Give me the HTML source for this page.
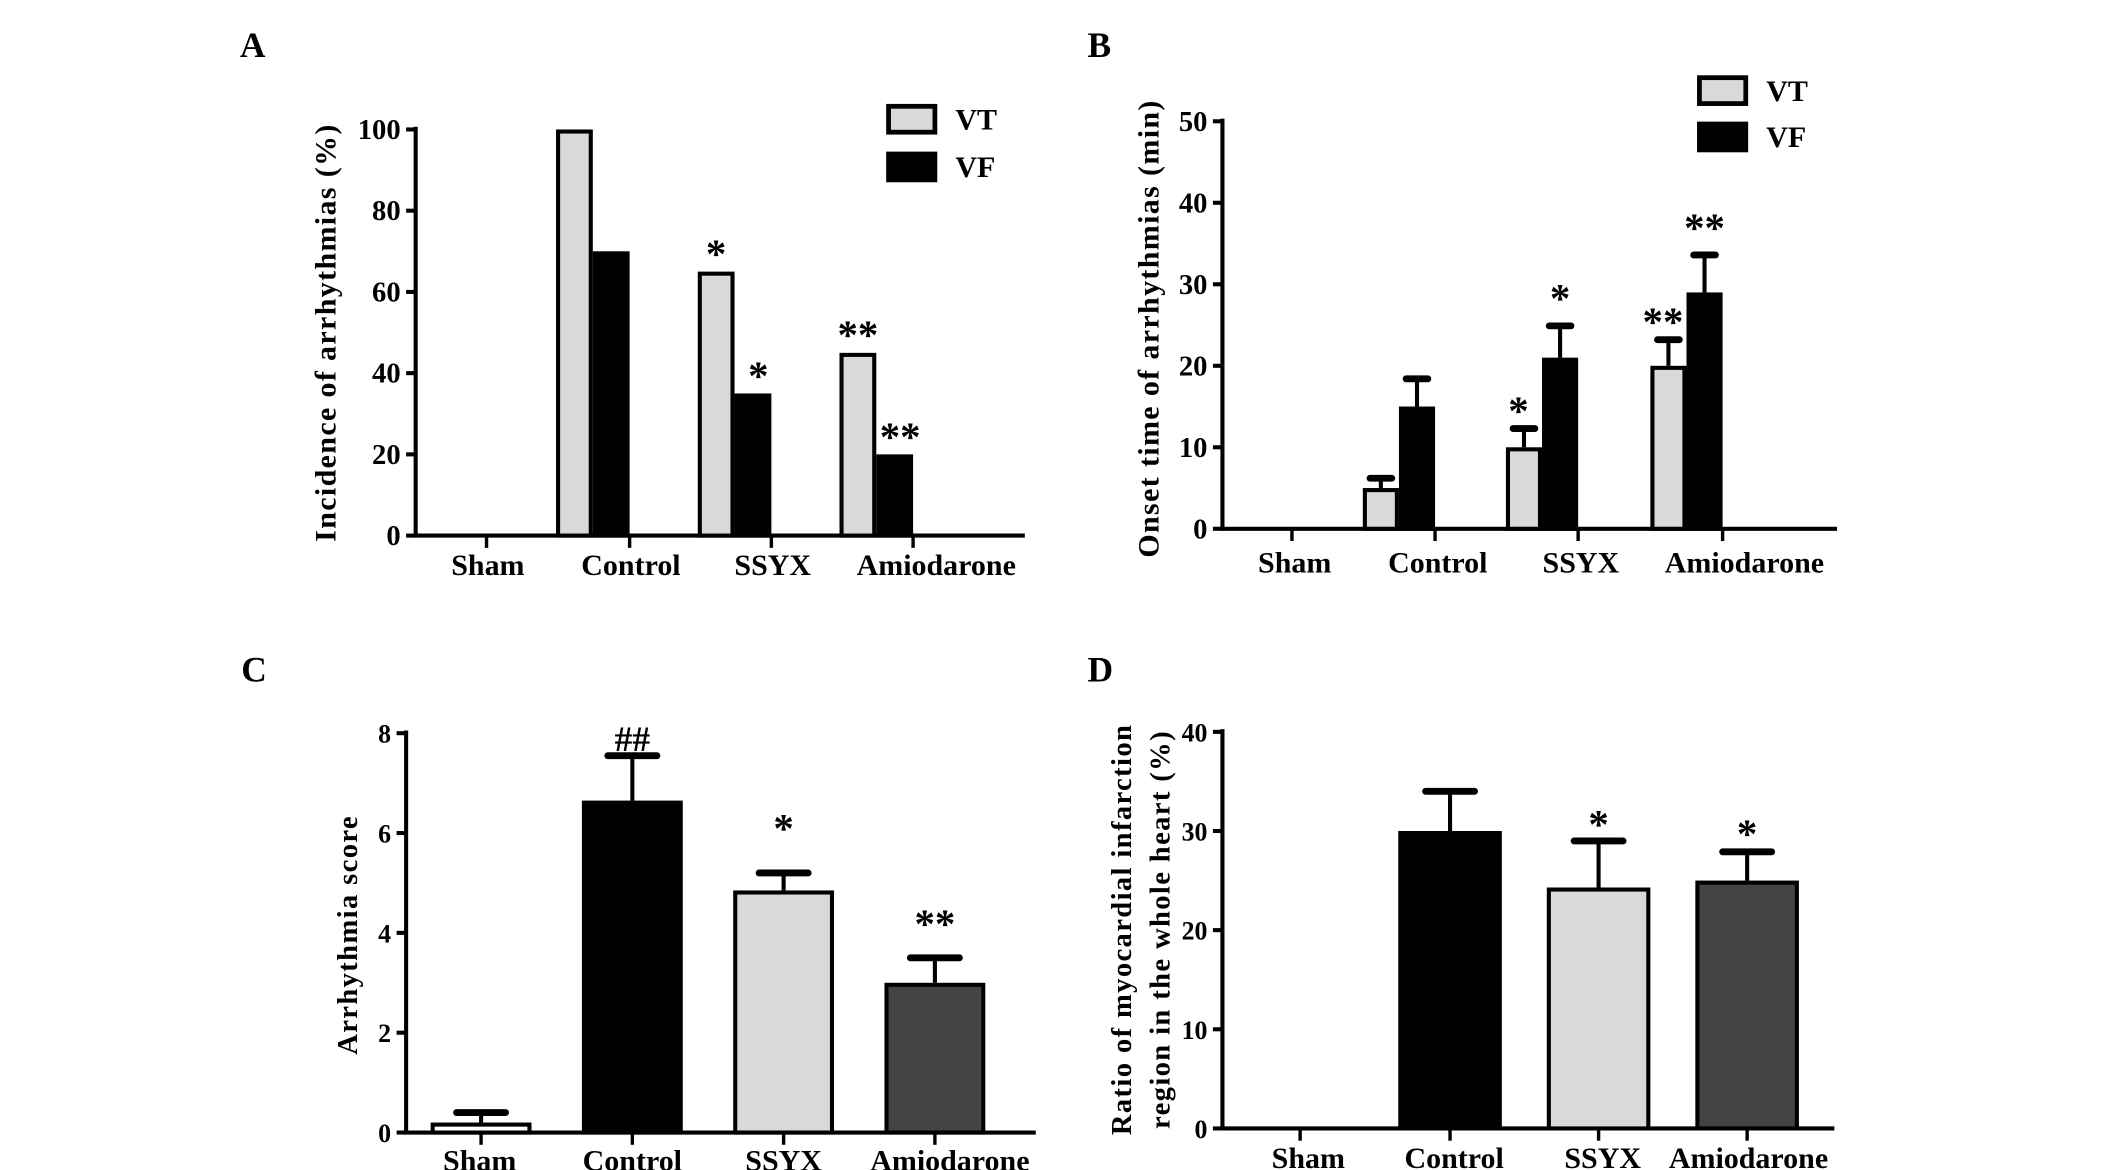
<!DOCTYPE html>
<html><head><meta charset="utf-8"><style>
html,body{margin:0;padding:0;background:#fff;}
svg{display:block;}
text{font-family:"Liberation Serif",serif;font-weight:bold;fill:#000;}
</style></head><body>
<svg id="fig" width="2126" height="1170" viewBox="0 0 1560 858.5" preserveAspectRatio="none" xmlns="http://www.w3.org/2000/svg"></svg>
<script>
const cats = ["Sham","Control","SSYX","Amiodarone"];
// Panel A
const aVT = [0,100,65,45];
const aVF = [0,70,35,20];
const aVTSig = ["","","*","**"];
const aVFSig = ["","","*","**"];
const aTicks = [0,20,40,60,80,100];
// Panel B
const bVT = [0,5,10,20];
const bVTErr = [0,1.2,2.3,3.2];
const bVF = [0,15,21,29];
const bVFErr = [0,3.4,3.9,4.6];
const bVTSig = ["","","*","**"];
const bVFSig = ["","","*","**"];
const bTicks = [0,10,20,30,40,50];
// Panel C
const cVal = [0.2,6.65,4.85,3.0];
const cErr = [0.2,0.9,0.35,0.5];
const cSig = ["","##","*","**"];
const cTicks = [0,2,4,6,8];
// Panel D
const dVal = [0,30,24.3,25];
const dErr = [0,4,4.7,2.9];
const dSig = ["","","*","*"];
const dTicks = [0,10,20,30,40];

const svg = document.getElementById('fig');
const NS = "http://www.w3.org/2000/svg";
function el(tag, attrs, parent, txt){
  const e = document.createElementNS(NS, tag);
  for (const k in attrs) e.setAttribute(k, attrs[k]);
  if (txt !== undefined) e.textContent = txt;
  (parent||svg).appendChild(e);
  return e;
}
function group(name){
  const g = el('g', {});
  
  
  return g;
}
function axes(g, x0, y0, yTop, xEnd, ticks, tickX, vmax, fs){
  const y = v => y0 - (v / vmax) * (y0 - yTop);
  const ya = el('line', {x1:x0, y1:yTop-2, x2:x0, y2:y0, stroke:'#000','stroke-width':3}, g);
  
  
  const xa = el('line', {x1:x0-1.5, y1:y0, x2:xEnd, y2:y0, stroke:'#000','stroke-width':3}, g);
  
  
  ticks.forEach(t => {
    el('line', {x1:x0-7, y1:y(t), x2:x0, y2:y(t), stroke:'#000','stroke-width':3}, g);
    const tl = el('text', {x:x0-11, y:y(t)+7, 'text-anchor':'end','font-size':fs}, g, String(t));
    
    
  });
  tickX.forEach((tx, i) => {
    el('line', {x1:tx, y1:y0, x2:tx, y2:y0+9, stroke:'#000','stroke-width':2.5}, g);
  });
  return y;
}
function catLabels(g, xs, yy, fs){
  xs.forEach((x,i)=>{
    const t = el('text', {x:x, y:yy, 'text-anchor':'middle','font-size':fs}, g, cats[i]);
    
    
  });
}
function bar(g, x, w, y, v, fill, name){
  if (v <= 0) return;
  const r = el('rect', {x:x+1.5, y:y(v)+1.5, width:w-3, height:y(0)-y(v)-1.5, fill:fill, stroke:'#000','stroke-width':3}, g);
  
  
}
function errbar(g, cx, y, v, e, cap){
  if (e <= 0) return;
  const l = el('line', {x1:cx, y1:y(v), x2:cx, y2:y(v+e), stroke:'#000','stroke-width':3}, g);
  
  
  el('line', {x1:cx-cap, y1:y(v+e), x2:cx+cap, y2:y(v+e), stroke:'#000','stroke-width':5,'stroke-linecap':'round'}, g);
}
function sig(g, cx, yy, s, fs){
  if (!s) return;
  const t = el('text', {x:cx, y:yy, 'text-anchor':'middle','font-size':fs}, g, s);
  
  
}
function ytitle(g, x, y, lines, fs){
  lines.forEach((s, i) => {
    const t = el('text', {x:0, y:0, 'text-anchor':'middle','font-size':fs,'letter-spacing':1,
      transform:`translate(${x + i*28},${y}) rotate(-90)`}, g, s);
    
    
  });
}
function legend(g, x, y1, y2){
  const r1 = el('rect', {x:x, y:y1, width:34, height:19, fill:'#d9d9d9', stroke:'#000','stroke-width':3.5}, g);
  
  
  const t1 = el('text', {x:x+49, y:y1+17, 'font-size':22}, g, 'VT');
  
  
  const r2 = el('rect', {x:x, y:y2, width:34, height:19, fill:'#000', stroke:'#000','stroke-width':3.5}, g);
  
  
  const t2 = el('text', {x:x+49, y:y2+17, 'font-size':22}, g, 'VF');
  
  
}
function panelLabel(s, x, y){
  const t = el('text', {x:x, y:y, 'font-size':26}, svg, s);
  
  
}

// ---- Panel A
panelLabel('A', 176, 42);
{
  const g = group('panel-a-chart');
  const tx = [357,462,566,670];
  const y = axes(g, 305, 393, 95, 752, aTicks, tx, 100, 21);
  const w = 27;
  tx.forEach((t,i)=>{
    bar(g, t-2*w, w, y, aVT[i], '#d9d9d9', 'bar-vt-'+cats[i].toLowerCase());
    bar(g, t-w, w, y, aVF[i], '#000', 'bar-vf-'+cats[i].toLowerCase());
    sig(g, t-1.5*w, y(aVT[i])-3, aVTSig[i], 30);
    sig(g, t-0.5*w+4, y(aVF[i])-3, aVFSig[i], 30);
  });
  catLabels(g, [358,463,567,687], 422, 22);
  ytitle(g, 246, 244, ['Incidence  of arrhythmias (%)'], 22);
  legend(g, 652, 78, 113);
}
// ---- Panel B
panelLabel('B', 798, 42);
{
  const g = group('panel-b-chart');
  const tx = [948,1053,1158,1264];
  const y = axes(g, 897, 388, 89, 1348, bTicks, tx, 50, 21);
  const w = 26.5;
  tx.forEach((t,i)=>{
    bar(g, t-2*w, w, y, bVT[i], '#d9d9d9', 'bar-vt-'+cats[i].toLowerCase());
    bar(g, t-w, w, y, bVF[i], '#000', 'bar-vf-'+cats[i].toLowerCase());
    errbar(g, t-1.5*w, y, bVT[i], bVTErr[i], 8);
    errbar(g, t-0.5*w, y, bVF[i], bVFErr[i], 8);
    sig(g, t-1.5*w-4, y(bVT[i]+bVTErr[i])-3, bVTSig[i], 30);
    sig(g, t-0.5*w, y(bVF[i]+bVFErr[i])-10, bVFSig[i], 30);
  });
  catLabels(g, [950,1055,1160,1280], 420, 22);
  ytitle(g, 850, 241, ['Onset time of arrhythmias (min)'], 22);
  legend(g, 1247, 57, 91);
}
// ---- Panel C
panelLabel('C', 177, 500);
{
  const g = group('panel-c-chart');
  const tx = [353,464,575,686];
  const y = axes(g, 298, 831, 538, 760, cTicks, tx, 8, 19);
  const w = 74;
  const fills = ['#fff','#000','#d9d9d9','#444'];
  tx.forEach((t,i)=>{
    bar(g, t-w/2, w, y, cVal[i], fills[i], 'bar-'+cats[i].toLowerCase());
    errbar(g, t, y, cVal[i], cErr[i], 18);
  });
  sig(g, tx[1], 551, cSig[1], 26);
  sig(g, tx[2], 618, cSig[2], 30);
  sig(g, tx[3], 688, cSig[3], 30);
  catLabels(g, [352,464,575,697], 859, 22);
  ytitle(g, 262, 686, ['Arrhythmia  score'], 21);
}
// ---- Panel D
panelLabel('D', 798, 500);
{
  const g = group('panel-d-chart');
  const tx = [954,1064,1173,1282];
  const y = axes(g, 897, 828, 537, 1346, dTicks, tx, 40, 19);
  const w = 76;
  const fills = ['#fff','#000','#d9d9d9','#444'];
  tx.forEach((t,i)=>{
    bar(g, t-w/2, w, y, dVal[i], fills[i], 'bar-'+cats[i].toLowerCase());
    errbar(g, t, y, dVal[i], dErr[i], 18);
  });
  sig(g, tx[2], y(dVal[2]+dErr[2])-2, dSig[2], 30);
  sig(g, tx[3], y(dVal[3]+dErr[3])-3, dSig[3], 30);
  catLabels(g, [960,1067,1176,1283], 857, 22);
  ytitle(g, 830, 682, ['Ratio of myocardial infarction','region in the whole heart  (%)'], 21);
}
</script>
</body></html>
